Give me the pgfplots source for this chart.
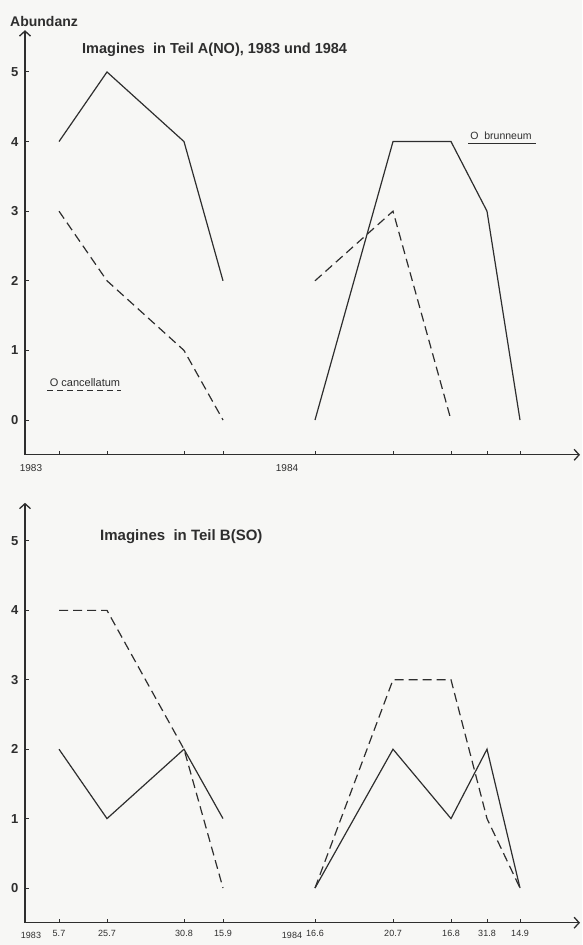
\documentclass[border=0pt]{standalone}
\usepackage{fontspec}
\setmainfont{Liberation Sans}
\usepackage{pgfplots}
\pgfplotsset{compat=1.18}
\usetikzlibrary{arrows.meta}
\definecolor{ink}{HTML}{2E2E2E}
\definecolor{paper}{HTML}{F7F7F5}

\pgfplotsset{
  panel/.style={
    scale only axis, width=555pt,
    xmin=25, xmax=580, ymin=-0.5,
    axis lines=left,
    axis line style={ink, line width=1.3pt, -{Straight Barb[length=5pt,width=11pt]}},
    xtick={59,107,184,223,315,393,451,487,520},
    ytick={0,1,2,3,4,5},
    tick align=inside,
    major tick length=4pt,
    tick style={ink, line width=1pt},
    /pgf/number format/assume math mode=true,
    yticklabel style={font=\fontsize{13}{13}\selectfont\bfseries, text=ink, xshift=-3pt},
    xticklabel style={font=\fontsize{9}{9}\selectfont, text=ink, yshift=-4pt},
    clip=false,
  },
  solid line/.style={ink, line width=1.2pt},
  dash line/.style={ink, line width=1.2pt, dash pattern=on 9pt off 5pt},
}

\begin{document}
\begin{tikzpicture}
  \fill[paper] (0,0) rectangle (582pt,-945pt);
  \useasboundingbox (0,0) rectangle (582pt,-945pt);

  % Teil A (NO)
  \begin{axis}[panel, at={(25pt,-454.8pt)}, anchor=south west,
      height=424.6pt, ymax=5.6, xticklabels={}]
    \addplot[solid line] coordinates {(59,4) (107,5) (184,4) (223,2)};
    \addplot[dash line] coordinates {(59,3) (107,2) (184,1) (223,0)};
    \addplot[solid line] coordinates {(315,0) (393,4) (451,4) (487,3) (520,0)};
    \addplot[dash line] coordinates {(315,2) (393,3) (451,0)};

    \node[anchor=west, inner sep=0, text=ink, font=\fontsize{14}{14}\selectfont\bfseries]
      at (axis cs:10,5.73) {Abundanz};
    \node[anchor=west, inner sep=0, text=ink, font=\fontsize{14.5}{14.5}\selectfont\bfseries]
      at (axis cs:82,5.32) {Imagines\ \ in Teil A(NO), 1983 und 1984};
    \node[inner sep=0, text=ink, font=\fontsize{10}{10}\selectfont] at (axis cs:31,-0.69) {1983};
    \node[inner sep=0, text=ink, font=\fontsize{10}{10}\selectfont] at (axis cs:287,-0.69) {1984};
    % legend labels
    \node[inner sep=0, text=ink, font=\fontsize{11}{11}\selectfont] at (axis cs:85,0.54) {O cancellatum};
    \draw[ink, line width=1pt, dash pattern=on 6pt off 4pt] (axis cs:47,0.42) -- (axis cs:121,0.42);
    \node[inner sep=0, text=ink, font=\fontsize{10.5}{10.5}\selectfont] at (axis cs:501,4.09) {O\ \ brunneum};
    \draw[ink, line width=1pt] (axis cs:468,3.97) -- (axis cs:536,3.97);
  \end{axis}

  % Teil B (SO)
  \begin{axis}[panel, at={(25pt,-922.7pt)}, anchor=south west,
      height=419.9pt, ymax=5.55,
      xticklabels={5.7,25.7,30.8,15.9,16.6,20.7,16.8,31.8,14.9}]
    \addplot[solid line] coordinates {(59,2) (107,1) (184,2) (223,1)};
    \addplot[dash line] coordinates {(59,4) (107,4) (184,2) (223,0)};
    \addplot[solid line] coordinates {(315,0) (393,2) (451,1) (487,2) (520,0)};
    \addplot[dash line] coordinates {(315,0) (393,3) (451,3) (487,1) (520,0)};

    \node[anchor=west, inner sep=0, text=ink, font=\fontsize{15}{15}\selectfont\bfseries]
      at (axis cs:100,5.06) {Imagines\ \ in\ Teil\ B(SO)};
    \node[inner sep=0, text=ink, font=\fontsize{9}{9}\selectfont] at (axis cs:31,-0.69) {1983};
    \node[inner sep=0, text=ink, font=\fontsize{9}{9}\selectfont] at (axis cs:292,-0.69) {1984};
  \end{axis}
\end{tikzpicture}
\end{document}
